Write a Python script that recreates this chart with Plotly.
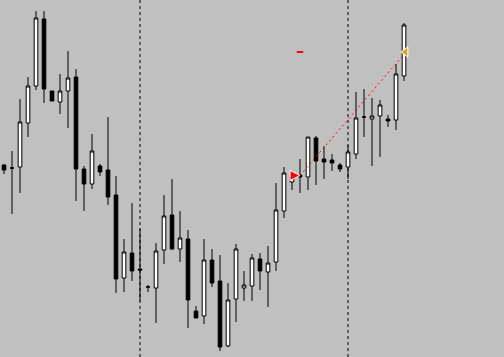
import plotly.graph_objects as go

# bar index (one per candle)
idx = list(range(51))

open_ = [192, 189, 190, 234, 271, 338, 266, 255, 266, 280, 188, 173, 191, 187, 162, 79, 104, 88, 70, 69,
         107, 142, 108, 118, 46, 41, 97, 76, 11, 58, 69, 71, 98, 85, 95, 146, 175, 182, 180, 219,
         198, 197, 192, 190, 203, 240, 238, 241, 238, 237, 281]
high = [193, 206, 258, 280, 346, 346, 266, 283, 306, 288, 191, 223, 193, 240, 181, 118, 154, 128, 72, 114,
        162, 178, 146, 127, 51, 118, 108, 102, 74, 113, 86, 103, 104, 111, 174, 190, 186, 198, 220, 221,
        211, 203, 194, 212, 265, 268, 259, 257, 242, 293, 334]
low = [183, 143, 164, 220, 267, 254, 256, 243, 229, 156, 146, 168, 181, 152, 64, 65, 76, 56, 65, 34,
       93, 107, 95, 29, 39, 33, 70, 6, 10, 35, 56, 56, 67, 50, 86, 139, 167, 164, 167, 172,
       178, 186, 185, 178, 198, 220, 191, 200, 230, 227, 276]
close = [187, 189, 235, 271, 339, 268, 256, 266, 279, 188, 173, 206, 185, 160, 78, 105, 86, 87, 70, 106,
         141, 108, 119, 57, 39, 97, 74, 10, 57, 108, 72, 99, 86, 94, 147, 184, 181, 180, 220, 196,
         195, 194, 188, 205, 239, 240, 241, 252, 236, 283, 332]

# session separators (bar index)
separators = [17, 43]

# trend line (bar index, price)
trend_x = [37.0, 50.25]
trend_y = [181.5, 305]

# signal arrows
buy_arrow_x = [37.0]
buy_arrow_y = [181.5]
target_x = [50.2]
target_y = [305]
level_x = [36.6, 37.4]
level_y = [305, 305]

fig = go.Figure()

fig.add_trace(go.Candlestick(
    x=idx, open=open_, high=high, low=low, close=close,
    increasing=dict(line=dict(color="black", width=1), fillcolor="white"),
    decreasing=dict(line=dict(color="black", width=1), fillcolor="black"),
    whiskerwidth=0,
    showlegend=False, hoverinfo="skip",
))

fig.add_trace(go.Scatter(
    x=trend_x, y=trend_y, mode="lines",
    line=dict(color="red", width=1, dash="2px,3px"),
    showlegend=False, hoverinfo="skip",
))

fig.add_trace(go.Scatter(
    x=level_x, y=level_y, mode="lines",
    line=dict(color="red", width=2),
    showlegend=False, hoverinfo="skip",
))

fig.add_trace(go.Scatter(
    x=buy_arrow_x, y=buy_arrow_y, mode="markers",
    marker=dict(symbol="arrow-right", size=10, color="red",
                line=dict(color="white", width=1)),
    showlegend=False, hoverinfo="skip",
))

fig.add_trace(go.Scatter(
    x=target_x, y=target_y, mode="markers",
    marker=dict(symbol="triangle-left", size=9, color="#DAA520",
                line=dict(color="white", width=1)),
    showlegend=False, hoverinfo="skip",
))

for s in separators:
    fig.add_shape(type="line", x0=s, x1=s, xref="x", y0=0, y1=1, yref="paper",
                  line=dict(color="black", width=1, dash="dot"), layer="below")

fig.update_layout(
    width=504, height=357,
    margin=dict(l=0, r=0, t=0, b=0),
    paper_bgcolor="#C0C0C0", plot_bgcolor="#C0C0C0",
    boxgap=0.35,
    xaxis=dict(range=[-0.5, 62.5], visible=False, rangeslider=dict(visible=False),
               showgrid=False, zeroline=False),
    yaxis=dict(range=[0, 357], visible=False, showgrid=False, zeroline=False),
)

fig.write_html("out.html")
